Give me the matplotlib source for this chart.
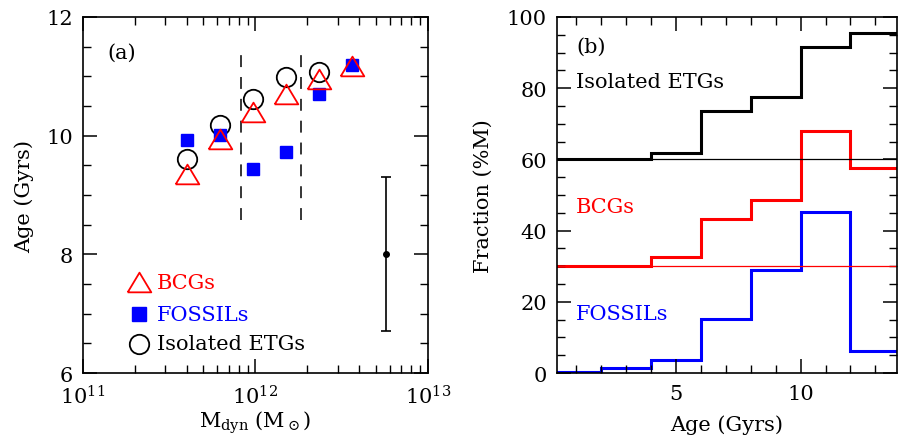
import numpy as np
import matplotlib.pyplot as plt
from matplotlib.ticker import MultipleLocator, LogLocator, NullFormatter

plt.rcParams['font.family'] = 'DejaVu Serif'
plt.rcParams['mathtext.fontset'] = 'dejavuserif'
plt.rcParams['font.size'] = 15

# panel (a): age vs dynamical mass
mass_bins = [4.0e11, 6.2e11, 9.7e11, 1.5e12, 2.35e12, 3.65e12]
age_bcg = [9.35, 9.95, 10.40, 10.70, 10.95, 11.18]
age_fossil = [9.93, 10.01, 9.44, 9.73, 10.70, 11.19]
mass_iso = [4.0e11, 6.2e11, 9.7e11, 1.5e12, 2.35e12]
age_iso = [9.60, 10.18, 10.62, 10.99, 11.08]
mass_cuts = [8.2e11, 1.84e12]
err_mass, err_age, err_size = 5.7e12, 8.0, 1.3

# panel (b): cumulative mass fraction histograms
age_edges = [0, 2, 4, 6, 8, 10, 12, 14]
frac_iso = [60.0, 60.2, 61.7, 73.5, 77.6, 91.6, 95.6]
frac_bcg = [30.0, 30.2, 32.5, 43.2, 48.7, 68.0, 57.7]
frac_fossil = [0.3, 1.4, 3.7, 15.1, 28.8, 45.1, 6.1]
offset_iso, offset_bcg = 60, 30

fig = plt.figure(figsize=(8.98, 4.39), dpi=100)
fig.set_facecolor('white')
ax1 = fig.add_axes([0.0924, 0.148, 0.384, 0.811])
ax2 = fig.add_axes([0.620, 0.148, 0.3785, 0.811])

tri = [(-1.2, -1), (1.2, -1), (0, 1), (-1.2, -1)]

ax1.plot(mass_bins, age_fossil, ls='none', marker='s', ms=9, color='blue', zorder=3)
ax1.plot(mass_bins, age_bcg, ls='none', marker=tri, ms=17, mfc='none', mec='red', mew=1.3, zorder=4)
ax1.plot(mass_iso, age_iso, ls='none', marker='o', ms=14, mfc='none', mec='black', mew=1.3, zorder=2)
for m in mass_cuts:
    ax1.plot([m, m], [8.58, 11.5], color='black', ls=(0, (7.8, 6.5)), lw=1.1)
ax1.errorbar([err_mass], [err_age], yerr=[err_size], fmt='o', color='black', ms=4,
             capsize=3.5, lw=1.2, capthick=1.2)

# legend drawn by hand
ax1.plot([2.1e11], [7.53], ls='none', marker=tri, ms=17, mfc='none', mec='red', mew=1.3)
ax1.plot([2.1e11], [6.99], ls='none', marker='s', ms=10, color='blue')
ax1.plot([2.1e11], [6.49], ls='none', marker='o', ms=14, mfc='none', mec='black', mew=1.3)
ax1.text(2.69e11, 7.53, 'BCGs', color='red', va='center', fontsize=15)
ax1.text(2.69e11, 6.99, 'FOSSILs', color='blue', va='center', fontsize=15)
ax1.text(2.69e11, 6.49, 'Isolated ETGs', color='black', va='center', fontsize=15)
ax1.text(0.07, 0.90, '(a)', transform=ax1.transAxes, va='center', fontsize=15)

ax1.set_xscale('log')
ax1.set_xlim(1e11, 1e13)
ax1.set_ylim(6, 12)
ax1.xaxis.set_major_locator(LogLocator(base=10, numticks=5))
ax1.xaxis.set_minor_locator(LogLocator(base=10, subs=np.arange(2, 10), numticks=20))
ax1.xaxis.set_minor_formatter(NullFormatter())
ax1.yaxis.set_major_locator(MultipleLocator(2))
ax1.yaxis.set_minor_locator(MultipleLocator(0.5))
ax1.set_xlabel(r'M$_{\rm dyn}$ (M$_\odot$)', fontsize=15, labelpad=1)
ax1.set_ylabel('Age (Gyrs)', fontsize=15, labelpad=9)

ax2.stairs(frac_iso, age_edges, baseline=None, color='black', lw=2.2)
ax2.stairs(frac_bcg, age_edges, baseline=None, color='red', lw=2.2)
ax2.stairs(frac_fossil, age_edges, baseline=None, color='blue', lw=2.2)
ax2.axhline(offset_iso, color='black', lw=0.9)
ax2.axhline(offset_bcg, color='red', lw=0.9)
ax2.text(0.059, 0.917, '(b)', transform=ax2.transAxes, va='center', fontsize=15)
ax2.text(0.057, 0.819, 'Isolated ETGs', transform=ax2.transAxes, va='center', fontsize=15)
ax2.text(0.057, 0.468, 'BCGs', transform=ax2.transAxes, va='center', color='red', fontsize=15)
ax2.text(0.057, 0.168, 'FOSSILs', transform=ax2.transAxes, va='center', color='blue', fontsize=15)

ax2.set_xlim(0.23, 13.85)
ax2.set_ylim(0, 100)
ax2.xaxis.set_major_locator(MultipleLocator(5))
ax2.xaxis.set_minor_locator(MultipleLocator(1))
ax2.yaxis.set_major_locator(MultipleLocator(20))
ax2.yaxis.set_minor_locator(MultipleLocator(5))
ax2.set_xlabel('Age (Gyrs)', fontsize=15, labelpad=8)
ax2.set_ylabel('Fraction (%M)', fontsize=15, labelpad=10)

for ax in (ax1, ax2):
    ax.tick_params(which='both', direction='in', top=True, right=True, labelsize=15)
    ax.tick_params(which='major', length=10, width=1.1)
    ax.tick_params(which='minor', length=5.5, width=1.0)
    ax.tick_params(axis='x', which='major', pad=8)
    ax.tick_params(axis='y', which='major', pad=7)
    for sp in ax.spines.values():
        sp.set_linewidth(1.2)

plt.savefig('out.png', dpi=100)
